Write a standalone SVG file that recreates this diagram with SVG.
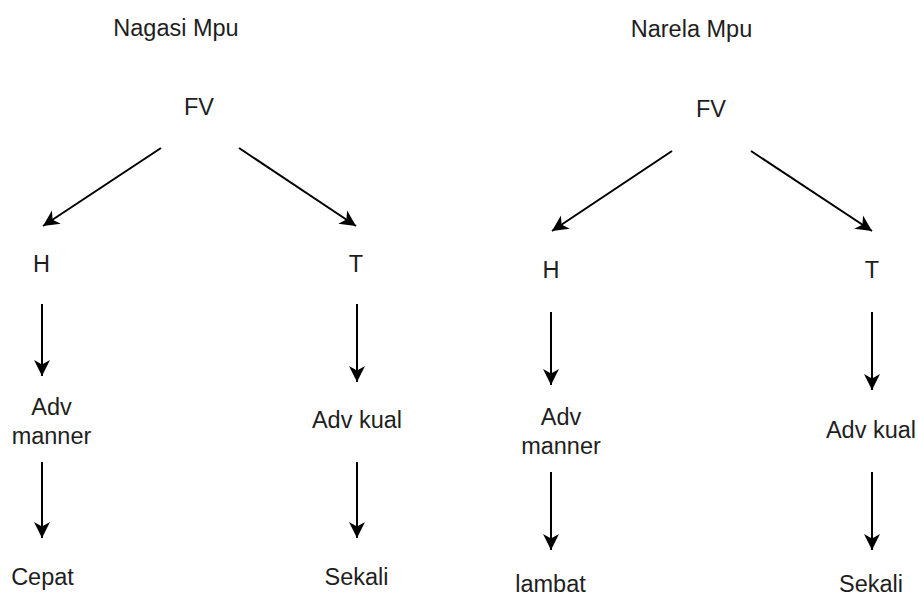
<svg xmlns="http://www.w3.org/2000/svg" width="918" height="598" viewBox="0 0 918 598">
  <style>
    text { font-family: "Liberation Sans", Arial, sans-serif; font-size: 23.5px; fill: #1e1e1e; text-anchor: middle; }
    .edge { stroke: #000; stroke-width: 2; fill: none; marker-end: url(#arrow); }
  </style>
  <defs>
    <marker id="arrow" markerUnits="userSpaceOnUse" viewBox="-17 -9 18 18" markerWidth="18" markerHeight="18" refX="0" refY="0" orient="auto">
      <path d="M0,0 L-16,-8 L-11.5,0 L-16,8 Z" fill="#000"/>
    </marker>
  </defs>
  <rect width="918" height="598" fill="#fff"/>

  <g id="title-left"><text x="176" y="36">Nagasi Mpu</text></g>
  <g id="fv-left"><text x="199" y="115">FV</text></g>
  <g id="h-left"><text x="41.5" y="272">H</text></g>
  <g id="t-left"><text x="356" y="272">T</text></g>
  <g id="advmanner-left"><text x="51.5" y="415">Adv</text><text x="51.5" y="444">manner</text></g>
  <g id="advkual-left"><text x="357" y="428">Adv kual</text></g>
  <g id="cepat"><text x="42.5" y="585">Cepat</text></g>
  <g id="sekali-left"><text x="356.5" y="585">Sekali</text></g>

  <g id="title-right"><text x="691.5" y="37">Narela Mpu</text></g>
  <g id="fv-right"><text x="711" y="117">FV</text></g>
  <g id="h-right"><text x="551" y="278">H</text></g>
  <g id="t-right"><text x="872" y="278">T</text></g>
  <g id="advmanner-right"><text x="561" y="425">Adv</text><text x="561" y="454">manner</text></g>
  <g id="advkual-right"><text x="871" y="438">Adv kual</text></g>
  <g id="lambat"><text x="550.5" y="592">lambat</text></g>
  <g id="sekali-right"><text x="871" y="592">Sekali</text></g>

  <g id="connectors">
    <line class="edge" x1="161" y1="148" x2="43" y2="226"/>
    <line class="edge" x1="239" y1="148" x2="356" y2="226"/>
    <line class="edge" x1="42" y1="304" x2="42" y2="376"/>
    <line class="edge" x1="357" y1="304" x2="357" y2="382"/>
    <line class="edge" x1="42" y1="462" x2="42" y2="538"/>
    <line class="edge" x1="357" y1="462" x2="357" y2="538"/>

    <line class="edge" x1="672" y1="151" x2="552" y2="231"/>
    <line class="edge" x1="751" y1="151" x2="872" y2="231"/>
    <line class="edge" x1="551" y1="312" x2="551" y2="385"/>
    <line class="edge" x1="872" y1="312" x2="872" y2="390"/>
    <line class="edge" x1="551" y1="472" x2="551" y2="550"/>
    <line class="edge" x1="872" y1="472" x2="872" y2="550"/>
  </g>
</svg>
